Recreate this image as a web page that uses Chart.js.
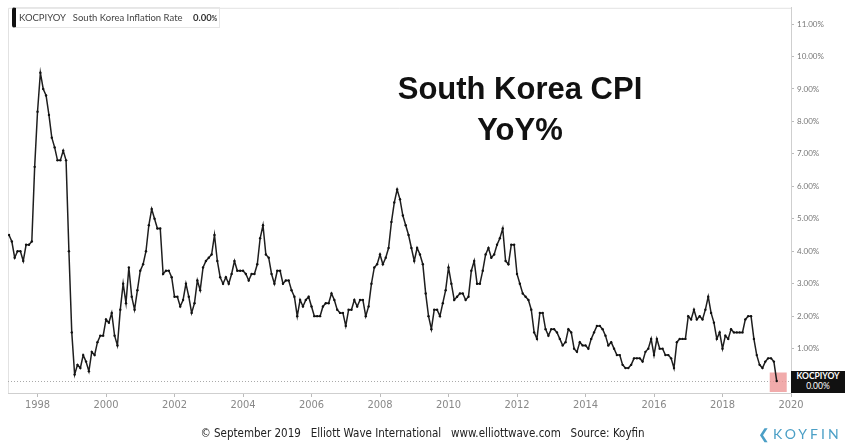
<!DOCTYPE html>
<html>
<head>
<meta charset="utf-8">
<title>South Korea CPI YoY%</title>
<script src="https://cdn.jsdelivr.net/npm/chart.js@4.4.0/dist/chart.umd.min.js"></script>
<style>
  body { margin: 0; background: #fff; }
  #wrap { position: relative; width: 845px; height: 445px; overflow: hidden; }
  #cpiChart { position: absolute; left: 0; top: 0; }
  .title { position: absolute; left: 370px; width: 300px; text-align: center;
           font: bold 31px "Liberation Sans", Arial, sans-serif; color: #111; line-height: 41px; top: 68px; }
  .legend { position: absolute; left: 12px; top: 7px; height: 19px; width: 200px;
            border: 1px solid #e6e6e6; border-left: 4px solid #111; border-radius: 3px 0 0 3px;
            font: 9.5px Lato, sans-serif; color: #444; line-height: 19px; white-space: nowrap; padding-left: 3px; }
  .legend b { font-weight: bold; color: #333; margin-left: 8px; }
  .legend small { font-size: 6.5px; }
  .lastbox { position: absolute; left: 791px; top: 371px; width: 54px; height: 21px; background: #111;
             color: #fff; font: bold 8.5px Lato, sans-serif; text-align: center; line-height: 9.5px; padding-top: 1px; }
  .lastbox span { font-weight: normal; }
  .footer { position: absolute; left: 0; width: 845px; top: 426px; text-align: center; color: #222;
            font: 11.5px "Liberation Sans Narrow", "DejaVu Sans Condensed", Arial, sans-serif; }
  .logo { position: absolute; left: 758px; top: 425px; color: #4b9fc6; font: 14px Lato, sans-serif;
          letter-spacing: 3px; }
</style>
</head>
<body>
<div id="wrap">
  <canvas id="cpiChart" width="845" height="445"></canvas>
  <div class="title">South Korea CPI<br>YoY%</div>
  <div class="legend">KOCPIYOY&nbsp;&nbsp; South Korea Inflation Rate <b>0.00<small>%</small></b></div>
  <div class="lastbox">KOCPIYOY<br><span>0.00%</span></div>
  <div class="footer">© September 2019&nbsp;&nbsp; Elliott Wave International&nbsp;&nbsp; www.elliottwave.com&nbsp;&nbsp; Source: Koyfin</div>
  <div class="logo">&#10094;KOYFIN</div>
</div>
<script>
// monthly readings, first one is March 1997
const startYear = 1997;
const startMonth = 3;

const cpiYoY = [
  4.5, 4.3, 3.8, 4.0, 4.0, 3.7, 4.2, 4.2, 4.3, 6.6,           // 1997 Mar-Dec
  8.3, 9.5, 9.0, 8.8, 8.2, 7.5, 7.2, 6.8, 6.8, 7.1, 6.8, 4.0, // 1998
  1.5, 0.2, 0.5, 0.4, 0.8, 0.6, 0.3, 0.9, 0.8, 1.2, 1.4, 1.4, // 1999
  1.9, 1.8, 2.1, 1.4, 1.1, 2.2, 3.0, 2.4, 3.5, 2.6, 2.2, 2.8, // 2000
  3.4, 3.6, 4.0, 4.8, 5.3, 5.0, 4.7, 4.7, 3.3, 3.4, 3.4, 3.2, // 2001
  2.6, 2.6, 2.3, 2.5, 3.0, 2.6, 2.1, 2.4, 3.1, 2.8, 3.5, 3.7, // 2002
  3.8, 3.9, 4.5, 3.7, 3.2, 3.0, 3.2, 3.0, 3.3, 3.7, 3.4, 3.4, // 2003
  3.4, 3.3, 3.1, 3.3, 3.3, 3.6, 4.4, 4.8, 3.9, 3.8, 3.3, 3.0, // 2004
  3.4, 3.4, 3.0, 3.1, 3.1, 2.8, 2.6, 2.0, 2.5, 2.3, 2.5, 2.6, // 2005
  2.3, 2.0, 2.0, 2.0, 2.3, 2.4, 2.4, 2.7, 2.5, 2.2, 2.1, 2.1, // 2006
  1.7, 2.2, 2.2, 2.5, 2.3, 2.5, 2.5, 2.0, 2.3, 3.0, 3.5, 3.6, // 2007
  3.9, 3.6, 3.8, 4.1, 4.9, 5.5, 5.9, 5.6, 5.1, 4.8, 4.5, 4.1, // 2008
  3.7, 4.1, 3.9, 3.6, 2.7, 2.0, 1.6, 2.2, 2.2, 2.0, 2.4, 2.8, // 2009
  3.5, 3.0, 2.5, 2.6, 2.7, 2.7, 2.5, 2.6, 3.4, 3.7, 3.0, 3.0, // 2010
  3.4, 3.9, 4.1, 3.8, 3.9, 4.2, 4.4, 4.7, 3.7, 3.6, 4.2, 4.2, // 2011
  3.3, 3.0, 2.7, 2.6, 2.5, 2.2, 1.5, 1.3, 2.1, 2.1, 1.6, 1.4, // 2012
  1.6, 1.6, 1.5, 1.3, 1.1, 1.2, 1.6, 1.5, 1.0, 0.9, 1.2, 1.1, // 2013
  1.1, 1.0, 1.3, 1.5, 1.7, 1.7, 1.6, 1.4, 1.1, 1.2, 1.0, 0.8, // 2014
  0.8, 0.5, 0.4, 0.4, 0.5, 0.7, 0.7, 0.7, 0.6, 0.9, 1.0, 1.3, // 2015
  0.8, 1.3, 1.0, 1.0, 0.8, 0.8, 0.7, 0.4, 1.2, 1.3, 1.3, 1.3, // 2016
  2.0, 1.9, 2.2, 1.9, 2.0, 1.9, 2.2, 2.6, 2.1, 1.8, 1.3, 1.5, // 2017
  1.0, 1.4, 1.3, 1.6, 1.5, 1.5, 1.5, 1.5, 1.9, 2.0, 2.0, 1.3, // 2018
  0.8, 0.5, 0.4, 0.6, 0.7, 0.7, 0.6, 0.0                      // 2019 Jan-Aug
];

const yearTicks = [1998, 2000, 2002, 2004, 2006, 2008, 2010, 2012, 2014, 2016, 2018, 2020];
const pctTicks = [1, 2, 3, 4, 5, 6, 7, 8, 9, 10, 11];

const points = cpiYoY.map((v, i) => ({ x: startYear + (startMonth - 1 + i) / 12, y: v }));

// frame, dotted zero line and the pink marker round the last reading
const extras = {
  id: 'extras',
  beforeDatasetsDraw(chart) {
    const { ctx, chartArea: a, scales: { x, y } } = chart;
    ctx.save();
    ctx.strokeStyle = '#e2e2e2';
    ctx.lineWidth = 1;
    ctx.beginPath();
    ctx.moveTo(a.left + 0.5, a.bottom);
    ctx.lineTo(a.left + 0.5, a.top + 0.5);
    ctx.lineTo(a.right, a.top + 0.5);
    ctx.stroke();

    const y0 = Math.round(y.getPixelForValue(0)) + 0.5;
    ctx.strokeStyle = '#aaa';
    ctx.setLineDash([1, 2]);
    ctx.beginPath();
    ctx.moveTo(a.left, y0);
    ctx.lineTo(a.right, y0);
    ctx.stroke();
    ctx.setLineDash([]);

    const last = points[points.length - 1];
    const lx = x.getPixelForValue(last.x);
    ctx.fillStyle = 'rgba(238, 150, 150, 0.8)';
    ctx.fillRect(lx - 7, y0 - 9, 17, a.bottom - y0 + 8);
    ctx.restore();
  }
};

const ctx = document.getElementById('cpiChart').getContext('2d');
const cpiChart = new Chart(ctx, {
  type: 'line',
  data: {
    datasets: [{
      data: points,
      borderColor: '#1e1e1e',
      borderWidth: 1.5,
      pointRadius: 1.2,
      pointBackgroundColor: '#111',
      pointBorderWidth: 0,
      tension: 0
    }]
  },
  options: {
    responsive: false,
    animation: false,
    layout: { padding: { left: 8, top: 5, right: 0, bottom: 0 } },
    plugins: {
      legend: { display: false },
      tooltip: { enabled: false }
    },
    scales: {
      x: {
        type: 'linear',
        min: 1997.138,
        max: 2020,
        afterBuildTicks: s => { s.ticks = yearTicks.map(v => ({ value: v })); },
        afterFit: s => { s.height = 52; },
        grid: { drawOnChartArea: false, tickLength: 4, color: '#bbb' },
        border: { color: '#cfcfcf' },
        ticks: {
          color: '#888',
          font: { family: 'Liberation Sans Narrow, DejaVu Sans Condensed, Arial', size: 11 },
          padding: 2,
          maxRotation: 0,
          autoSkip: false,
          callback: v => String(v)
        }
      },
      y: {
        position: 'right',
        min: -0.367,
        max: 11.5,
        afterBuildTicks: s => { s.ticks = pctTicks.map(v => ({ value: v })); },
        afterFit: s => { s.width = 54; },
        grid: { drawOnChartArea: false, tickLength: 3, color: '#bbb' },
        border: { color: '#cfcfcf' },
        ticks: {
          color: '#777',
          font: { family: 'Lato', size: 8 },
          padding: 3,
          autoSkip: false,
          callback: v => v.toFixed(2) + '%'
        }
      }
    }
  },
  plugins: [extras]
});
</script>
</body>
</html>
